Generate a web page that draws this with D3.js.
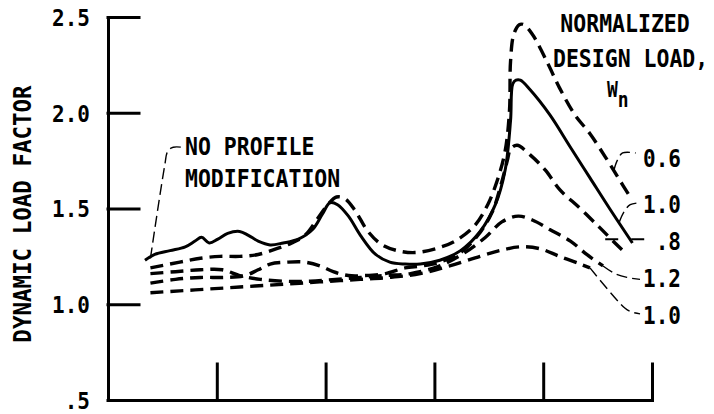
<!DOCTYPE html>
<meta charset="utf-8">
<style>
body { margin: 0; background: #fff; }
text { font-family: "DejaVu Sans Mono", monospace; fill: #000; }
.axis path, .axis line { stroke: #000; stroke-width: 3px; stroke-linecap: square; }
.curve { fill: none; stroke: #000; stroke-width: 3px; }
.dash { stroke-dasharray: 13,7; stroke-width: 3.4px; }
.leader { fill: none; stroke: #000; stroke-width: 1.4px; stroke-dasharray: 11,5; }
</style>
<svg width="714" height="414"></svg>
<script src="https://d3js.org/d3.v7.min.js"></script>
<script>

// tick marks along the bottom (no labels) and left axis
var xTicks = [1, 2, 3, 4, 5];
var yTicks = [0.5, 1.0, 1.5, 2.0, 2.5];
var yTickLabels = [".5", "1.0", "1.5", "2.0", "2.5"];

// no profile modification, Wn = 1.0 (solid)
var noProfileMod = [[0.34,1.23],[0.43,1.26],[0.57,1.28],[0.71,1.30],[0.80,1.33],[0.86,1.35],[0.93,1.32],
  [1.01,1.34],[1.10,1.37],[1.21,1.38],[1.29,1.36],[1.38,1.33],[1.49,1.31],[1.61,1.32],[1.75,1.34],
  [1.88,1.39],[1.97,1.47],[2.04,1.53],[2.11,1.52],[2.21,1.46],[2.32,1.36],[2.46,1.26],[2.59,1.22],
  [2.73,1.21],[2.87,1.21],[3.05,1.23],[3.24,1.28],[3.42,1.38],[3.56,1.52],[3.65,1.70],[3.70,1.96],
  [3.72,2.15],[3.75,2.17],[3.79,2.17],[3.88,2.12],[4.06,1.99],[4.25,1.82],[4.43,1.66],[4.61,1.50],[4.82,1.32]];

// modified profiles, dashed
var wn06 = [[0.39,1.19],[0.66,1.22],[0.85,1.24],[1.03,1.25],[1.21,1.25],[1.38,1.26],[1.55,1.29],[1.69,1.32],
  [1.81,1.36],[1.93,1.45],[2.02,1.52],[2.10,1.56],[2.18,1.55],[2.27,1.49],[2.39,1.38],[2.52,1.31],
  [2.66,1.28],[2.82,1.27],[3.01,1.29],[3.19,1.33],[3.37,1.41],[3.49,1.52],[3.58,1.65],[3.65,1.80],
  [3.69,2.01],[3.70,2.27],[3.73,2.41],[3.78,2.46],[3.82,2.46],[3.90,2.41],[4.04,2.26],[4.15,2.13],
  [4.29,1.99],[4.43,1.89],[4.57,1.77],[4.69,1.66],[4.80,1.56]];

var wn08 = [[0.39,1.11],[0.62,1.13],[0.85,1.14],[1.08,1.14],[1.26,1.15],[1.38,1.18],[1.49,1.21],[1.65,1.22],
  [1.81,1.22],[1.95,1.20],[2.07,1.17],[2.21,1.15],[2.36,1.15],[2.55,1.16],[2.73,1.19],[2.89,1.20],
  [3.05,1.22],[3.24,1.27],[3.40,1.36],[3.53,1.48],[3.61,1.62],[3.67,1.75],[3.70,1.81],[3.76,1.83],
  [3.88,1.78],[4.02,1.70],[4.15,1.60],[4.34,1.50],[4.52,1.40],[4.66,1.32],[4.75,1.27]];

var wn12 = [[0.39,1.16],[0.62,1.17],[0.85,1.18],[1.05,1.18],[1.21,1.15],[1.40,1.13],[1.63,1.12],[1.86,1.12],
  [2.09,1.13],[2.32,1.14],[2.55,1.15],[2.78,1.16],[3.05,1.20],[3.28,1.27],[3.47,1.35],[3.62,1.43],
  [3.77,1.46],[3.90,1.44],[4.06,1.39],[4.25,1.33],[4.40,1.26],[4.55,1.20]];

var wn10 = [[0.39,1.06],[0.66,1.07],[0.94,1.08],[1.21,1.09],[1.49,1.10],[1.76,1.11],[2.04,1.12],[2.32,1.13],
  [2.59,1.14],[2.87,1.16],[3.14,1.20],[3.42,1.25],[3.60,1.28],[3.79,1.30],[3.97,1.29],[4.15,1.25],
  [4.34,1.21],[4.43,1.19]];

// leader lines from curves to their labels
var leaderNoMod = [[0.39,1.24],[0.52,1.72],[0.55,1.80],[0.60,1.82],[0.68,1.82]];
var leader06 = [[4.65,1.70],[4.68,1.75],[4.73,1.79],[4.85,1.79]];
var leader10a = [[4.70,1.43],[4.74,1.48],[4.80,1.52],[4.89,1.53]];
var leader08 = [[4.57,1.34],[4.99,1.34]];
var leader12 = [[4.55,1.20],[4.66,1.16],[4.77,1.14],[4.89,1.13]];
var leader10b = [[4.43,1.19],[4.75,0.98],[4.81,0.96],[4.89,0.95]];

var svg = d3.select("svg");

var x = d3.scaleLinear().domain([0, 5]).range([108, 652]);
var y = d3.scaleLinear().domain([0.5, 2.5]).range([400, 17]);

var line = d3.line()
    .x(function(d) { return x(d[0]); })
    .y(function(d) { return y(d[1]); })
    .curve(d3.curveCatmullRom.alpha(0.5));

// axes, ticks pointing inward
var yAxis = svg.append("g")
    .attr("class", "axis")
    .attr("transform", "translate(108,0)")
    .call(d3.axisLeft(y).tickValues(yTicks)
      .tickFormat(function(d, i) { return yTickLabels[i]; })
      .tickSizeInner(-31).tickSizeOuter(0).tickPadding(18));

yAxis.selectAll("text")
    .attr("font-size", 21)
    .attr("font-family", "DejaVu Sans Mono")
    .attr("font-weight", "bold")
    .attr("dy", "0.36em")
    .attr("transform", "scale(1,1.12)");

svg.append("g")
    .attr("class", "axis")
    .attr("transform", "translate(0,400)")
    .call(d3.axisBottom(x).tickValues(xTicks).tickFormat("")
      .tickSizeInner(-36).tickSizeOuter(0));

// curves
svg.append("path").datum(noProfileMod).attr("class", "curve").attr("d", line);
[wn06, wn08, wn12, wn10].forEach(function(s) {
  svg.append("path").datum(s).attr("class", "curve dash").attr("d", line);
});

[leaderNoMod, leader06, leader10a, leader08, leader12, leader10b].forEach(function(s) {
  svg.append("path").datum(s).attr("class", "leader").attr("d", line);
});
d3.select(svg.selectAll(".leader").nodes()[3]).style("stroke-dasharray", "13,13").style("stroke-width", "2px");

function label(px, py, str, size, anchor, weight, sy) {
  return svg.append("text")
    .attr("transform", "translate(" + px + "," + py + ") scale(1," + (sy || 1.15) + ")")
    .attr("font-size", size)
    .attr("font-weight", weight || "bold")
    .attr("text-anchor", anchor || "start")
    .text(str);
}

// axis title
svg.append("text")
    .attr("transform", "translate(31,214) rotate(-90) scale(1,1.1)")
    .attr("font-size", 22.5)
    .attr("font-weight", "bold")
    .attr("text-anchor", "middle")
    .text("DYNAMIC LOAD FACTOR");

label(185, 155, "NO PROFILE", 21.5);
label(185, 187, "MODIFICATION", 21.5);

label(625, 32, "NORMALIZED", 21.5, "middle");
label(553, 67, "DESIGN LOAD,", 21.5, "start");
var wn = label(607, 97, "W", 18, "start");
wn.append("tspan").attr("font-size", 18).attr("dy", 9).text("n");

label(681, 167, "0.6", 21, "end");
label(681, 213, "1.0", 21, "end");
label(681, 250, ".8", 21, "end");
label(681, 287, "1.2", 21, "end");
label(681, 324, "1.0", 21, "end");

</script>
